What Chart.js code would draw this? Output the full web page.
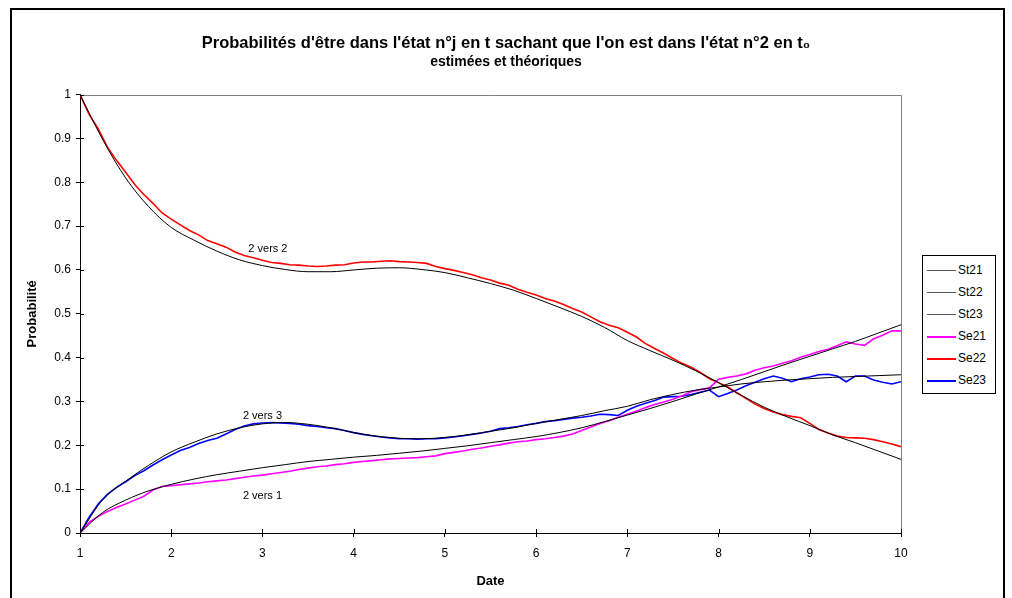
<!DOCTYPE html>
<html>
<head>
<meta charset="utf-8">
<script src="https://cdn.jsdelivr.net/npm/chart.js@4.4.0/dist/chart.umd.min.js"></script>
<style>
  html, body { margin: 0; padding: 0; background: #fff; }
  #wrap { position: relative; width: 1012px; height: 598px; overflow: hidden; }
  #chart { position: absolute; left: 0; top: 0; }
  #frame { position: absolute; left: 10px; top: 8px; width: 991px; height: 640px; border: 2px solid #000; pointer-events: none; }
  #legend { position: absolute; left: 922px; top: 255px; width: 72px; height: 137px; border: 1px solid #000; background: #fff;
            font: 12px "Liberation Sans", Arial, sans-serif; color: #000; }
  .item { position: absolute; left: 0; width: 72px; height: 14px; }
  .item i { position: absolute; left: 4px; width: 29px; top: 7px; }
  .item span { position: absolute; left: 35px; top: 0; line-height: 14px; }
</style>
</head>
<body>
<div id="wrap">
  <canvas id="chart" width="1012" height="598"></canvas>
  <div id="frame"></div>
  <div id="legend"></div>
</div>
<script>
// dates des courbes théoriques
const tDates = [1, 1.25, 1.5, 1.75, 2, 2.25, 2.5, 2.75, 3, 3.25, 3.5, 3.75, 4, 4.25, 4.5, 4.75, 5, 5.25, 5.5, 5.75,
  6, 6.25, 6.5, 6.75, 7, 7.25, 7.5, 7.75, 8, 8.25, 8.5, 8.75, 9, 9.25, 9.5, 9.75, 10];
const St21 = [0, 0.047, 0.075, 0.096, 0.111, 0.123, 0.133, 0.141, 0.149, 0.156, 0.163, 0.168, 0.173, 0.177, 0.182, 0.187,
  0.193, 0.199, 0.206, 0.213, 0.220, 0.229, 0.240, 0.254, 0.269, 0.284, 0.300, 0.317, 0.333, 0.350, 0.368, 0.386,
  0.403, 0.420, 0.437, 0.456, 0.475];
const St22 = [1.000, 0.897, 0.810, 0.745, 0.697, 0.668, 0.643, 0.623, 0.610, 0.601, 0.596, 0.596, 0.600, 0.604, 0.605, 0.601,
  0.594, 0.582, 0.569, 0.554, 0.535, 0.515, 0.494, 0.469, 0.439, 0.416, 0.394, 0.370, 0.343, 0.314, 0.287, 0.265,
  0.245, 0.224, 0.206, 0.187, 0.168];
const St23 = [0, 0.076, 0.118, 0.154, 0.185, 0.207, 0.226, 0.240, 0.249, 0.252, 0.248, 0.240, 0.229, 0.221, 0.216, 0.215,
  0.218, 0.224, 0.232, 0.240, 0.250, 0.259, 0.268, 0.279, 0.289, 0.304, 0.316, 0.326, 0.333, 0.340, 0.345, 0.349,
  0.352, 0.355, 0.357, 0.359, 0.361];

// dates des courbes estimées
const eDates = [
  1.0, 1.1, 1.2, 1.3, 1.4, 1.5, 1.6, 1.7, 1.8, 1.9,
  2.0, 2.1, 2.2, 2.3, 2.4, 2.5, 2.6, 2.7, 2.8, 2.9,
  3.0, 3.1, 3.2, 3.3, 3.4, 3.5, 3.6, 3.7, 3.8, 3.9,
  4.0, 4.1, 4.2, 4.3, 4.4, 4.5, 4.6, 4.7, 4.8, 4.9,
  5.0, 5.1, 5.2, 5.3, 5.4, 5.5, 5.6, 5.7, 5.8, 5.9,
  6.0, 6.1, 6.2, 6.3, 6.4, 6.5, 6.6, 6.7, 6.8, 6.9,
  7.0, 7.1, 7.2, 7.3, 7.4, 7.5, 7.6, 7.7, 7.8, 7.9,
  8.0, 8.1, 8.2, 8.3, 8.4, 8.5, 8.6, 8.7, 8.8, 8.9,
  9.0, 9.1, 9.2, 9.3, 9.4, 9.5, 9.6, 9.7, 9.8, 9.9,
  10.0];
const Se21 = [
  0.000, 0.024, 0.038, 0.049, 0.058, 0.066, 0.075, 0.084, 0.098, 0.106,
  0.108, 0.110, 0.112, 0.114, 0.117, 0.119, 0.121, 0.124, 0.127, 0.130,
  0.132, 0.135, 0.138, 0.141, 0.145, 0.148, 0.151, 0.153, 0.156, 0.158,
  0.161, 0.163, 0.165, 0.167, 0.169, 0.170, 0.171, 0.172, 0.174, 0.176,
  0.181, 0.184, 0.187, 0.191, 0.194, 0.198, 0.201, 0.205, 0.208, 0.210,
  0.213, 0.215, 0.218, 0.221, 0.226, 0.234, 0.242, 0.250, 0.256, 0.264,
  0.271, 0.278, 0.286, 0.293, 0.299, 0.305, 0.313, 0.322, 0.327, 0.331,
  0.351, 0.355, 0.358, 0.363, 0.371, 0.377, 0.381, 0.387, 0.393, 0.401,
  0.407, 0.414, 0.419, 0.427, 0.436, 0.431, 0.428, 0.443, 0.451, 0.461,
  0.461];
const Se22 = [
  1.000, 0.955, 0.922, 0.880, 0.850, 0.823, 0.795, 0.772, 0.752, 0.730,
  0.716, 0.703, 0.690, 0.680, 0.667, 0.660, 0.652, 0.641, 0.633, 0.628,
  0.622, 0.617, 0.615, 0.612, 0.611, 0.609, 0.608, 0.609, 0.611, 0.612,
  0.616, 0.618, 0.618, 0.620, 0.621, 0.619, 0.618, 0.617, 0.615, 0.608,
  0.603, 0.599, 0.594, 0.589, 0.582, 0.577, 0.570, 0.565, 0.556, 0.549,
  0.543, 0.535, 0.529, 0.521, 0.512, 0.504, 0.493, 0.482, 0.474, 0.468,
  0.458, 0.447, 0.432, 0.421, 0.410, 0.398, 0.387, 0.378, 0.366, 0.352,
  0.343, 0.333, 0.320, 0.307, 0.294, 0.284, 0.276, 0.270, 0.266, 0.263,
  0.250, 0.236, 0.228, 0.221, 0.218, 0.217, 0.216, 0.213, 0.208, 0.203,
  0.197];
const Se23 = [
  0.000, 0.036, 0.066, 0.088, 0.104, 0.117, 0.131, 0.142, 0.155, 0.167,
  0.178, 0.188, 0.195, 0.204, 0.211, 0.216, 0.226, 0.236, 0.244, 0.249,
  0.251, 0.252, 0.251, 0.250, 0.248, 0.245, 0.243, 0.240, 0.238, 0.234,
  0.229, 0.225, 0.222, 0.219, 0.217, 0.215, 0.215, 0.214, 0.215, 0.215,
  0.217, 0.219, 0.222, 0.225, 0.228, 0.232, 0.238, 0.240, 0.243, 0.247,
  0.250, 0.254, 0.256, 0.259, 0.262, 0.264, 0.267, 0.271, 0.270, 0.268,
  0.280, 0.289, 0.296, 0.302, 0.310, 0.311, 0.312, 0.316, 0.321, 0.326,
  0.311, 0.318, 0.326, 0.336, 0.344, 0.352, 0.358, 0.353, 0.345, 0.352,
  0.356, 0.361, 0.362, 0.358, 0.345, 0.358, 0.358, 0.349, 0.344, 0.340,
  0.345];

const seriesNames = ['St21', 'St22', 'St23', 'Se21', 'Se22', 'Se23'];
const seriesColors = ['#000000', '#000000', '#000000', '#ff00ff', '#ff0000', '#0000ff'];

const annLabels = ['2 vers 2', '2 vers 3', '2 vers 1'];
const annX = [3.06, 3.0, 3.0];
const annY = [0.648, 0.267, 0.085];

const FONT = '"Liberation Sans", Arial, sans-serif';
Chart.defaults.font.family = FONT;
Chart.defaults.color = '#000';

const zip = (xs, ys) => xs.map((x, i) => ({ x, y: ys[i] }));

const theo = [St21, St22, St23].map((d, i) => ({
  label: seriesNames[i], data: zip(tDates, d), borderColor: seriesColors[i],
  borderWidth: 1, cubicInterpolationMode: 'monotone', pointRadius: 0,
}));
const esti = [Se21, Se22, Se23].map((d, i) => ({
  label: seriesNames[i + 3], data: zip(eDates, d), borderColor: seriesColors[i + 3],
  borderWidth: 1.6, tension: 0, pointRadius: 0,
}));

// cadre gris, graduations traversantes et étiquettes "2 vers j"
const decor = {
  id: 'decor',
  afterDraw(chart) {
    const { ctx, chartArea: a, scales: { x, y } } = chart;
    ctx.save();
    ctx.lineWidth = 1;
    ctx.strokeStyle = '#808080';
    ctx.beginPath();
    ctx.moveTo(a.left, Math.round(a.top) + 0.5);
    ctx.lineTo(Math.round(a.right) + 0.5, Math.round(a.top) + 0.5);
    ctx.lineTo(Math.round(a.right) + 0.5, a.bottom);
    ctx.stroke();
    ctx.strokeStyle = '#000';
    ctx.beginPath();
    x.ticks.forEach(t => {
      const px = Math.round(x.getPixelForValue(t.value)) + 0.5;
      ctx.moveTo(px, a.bottom); ctx.lineTo(px, a.bottom - 4);
    });
    y.ticks.forEach(t => {
      const py = Math.round(y.getPixelForValue(t.value)) + 0.5;
      ctx.moveTo(a.left, py); ctx.lineTo(a.left + 4, py);
    });
    ctx.stroke();
    ctx.fillStyle = '#000';
    ctx.font = '11px ' + FONT;
    ctx.textAlign = 'center';
    ctx.textBaseline = 'middle';
    annLabels.forEach((s, i) => ctx.fillText(s, x.getPixelForValue(annX[i]), y.getPixelForValue(annY[i])));
    ctx.restore();
  }
};

function buildLegend(datasets) {
  const box = document.getElementById('legend');
  datasets.forEach((ds, i) => {
    const it = document.createElement('div');
    it.className = 'item';
    it.style.top = (7 + i * 22) + 'px';
    const sw = document.createElement('i');
    sw.style.borderTop = (ds.borderWidth > 1 ? 2 : 1) + 'px solid ' + (ds.borderWidth > 1 ? ds.borderColor : '#555');
    const tx = document.createElement('span');
    tx.textContent = ds.label;
    it.append(sw, tx);
    box.appendChild(it);
  });
}

document.addEventListener('DOMContentLoaded', () => {
  const canvas = document.getElementById('chart');
  const datasets = theo.concat(esti);
  new Chart(canvas, {
    type: 'line',
    data: { datasets },
    options: {
      responsive: false,
      animation: false,
      layout: { padding: 0 },
      plugins: {
        legend: { display: false },
        tooltip: { enabled: false },
        title: {
          display: true,
          text: "Probabilités d'être dans l'état n°j en t sachant que l'on est dans l'état n°2 en t₀",
          font: { size: 16.5, weight: 'bold' }, padding: { top: 34, bottom: 0 },
        },
        subtitle: {
          display: true, text: 'estimées et théoriques',
          font: { size: 14, weight: 'bold' }, padding: { top: 0, bottom: 24 },
        },
      },
      scales: {
        x: {
          type: 'linear', min: 1, max: 10,
          ticks: { stepSize: 1, font: { size: 12 }, padding: 9, maxRotation: 0 },
          grid: { drawOnChartArea: false, tickLength: 4, tickColor: '#000' },
          border: { color: '#000', width: 1 },
          title: { display: true, text: 'Date', font: { size: 13, weight: 'bold' }, padding: { top: 0, bottom: 9 } },
          afterFit(s) { s.height = 65; },
        },
        y: {
          min: 0, max: 1,
          ticks: { stepSize: 0.1, font: { size: 12 }, padding: 5, callback: v => String(Math.round(v * 10) / 10) },
          grid: { drawOnChartArea: false, tickLength: 4, tickColor: '#000' },
          border: { color: '#000', width: 1 },
          title: { display: true, text: 'Probabilité', font: { size: 13, weight: 'bold' }, padding: { top: 25, bottom: 0 } },
          afterFit(s) { s.width = 80; },
        },
        y2: {
          position: 'right', min: 0, max: 1,
          ticks: { display: false }, grid: { display: false }, border: { display: false },
          afterFit(s) { s.width = 111; },
        },
      },
    },
    plugins: [decor],
  });
  buildLegend(datasets);
});
</script>
</body>
</html>
